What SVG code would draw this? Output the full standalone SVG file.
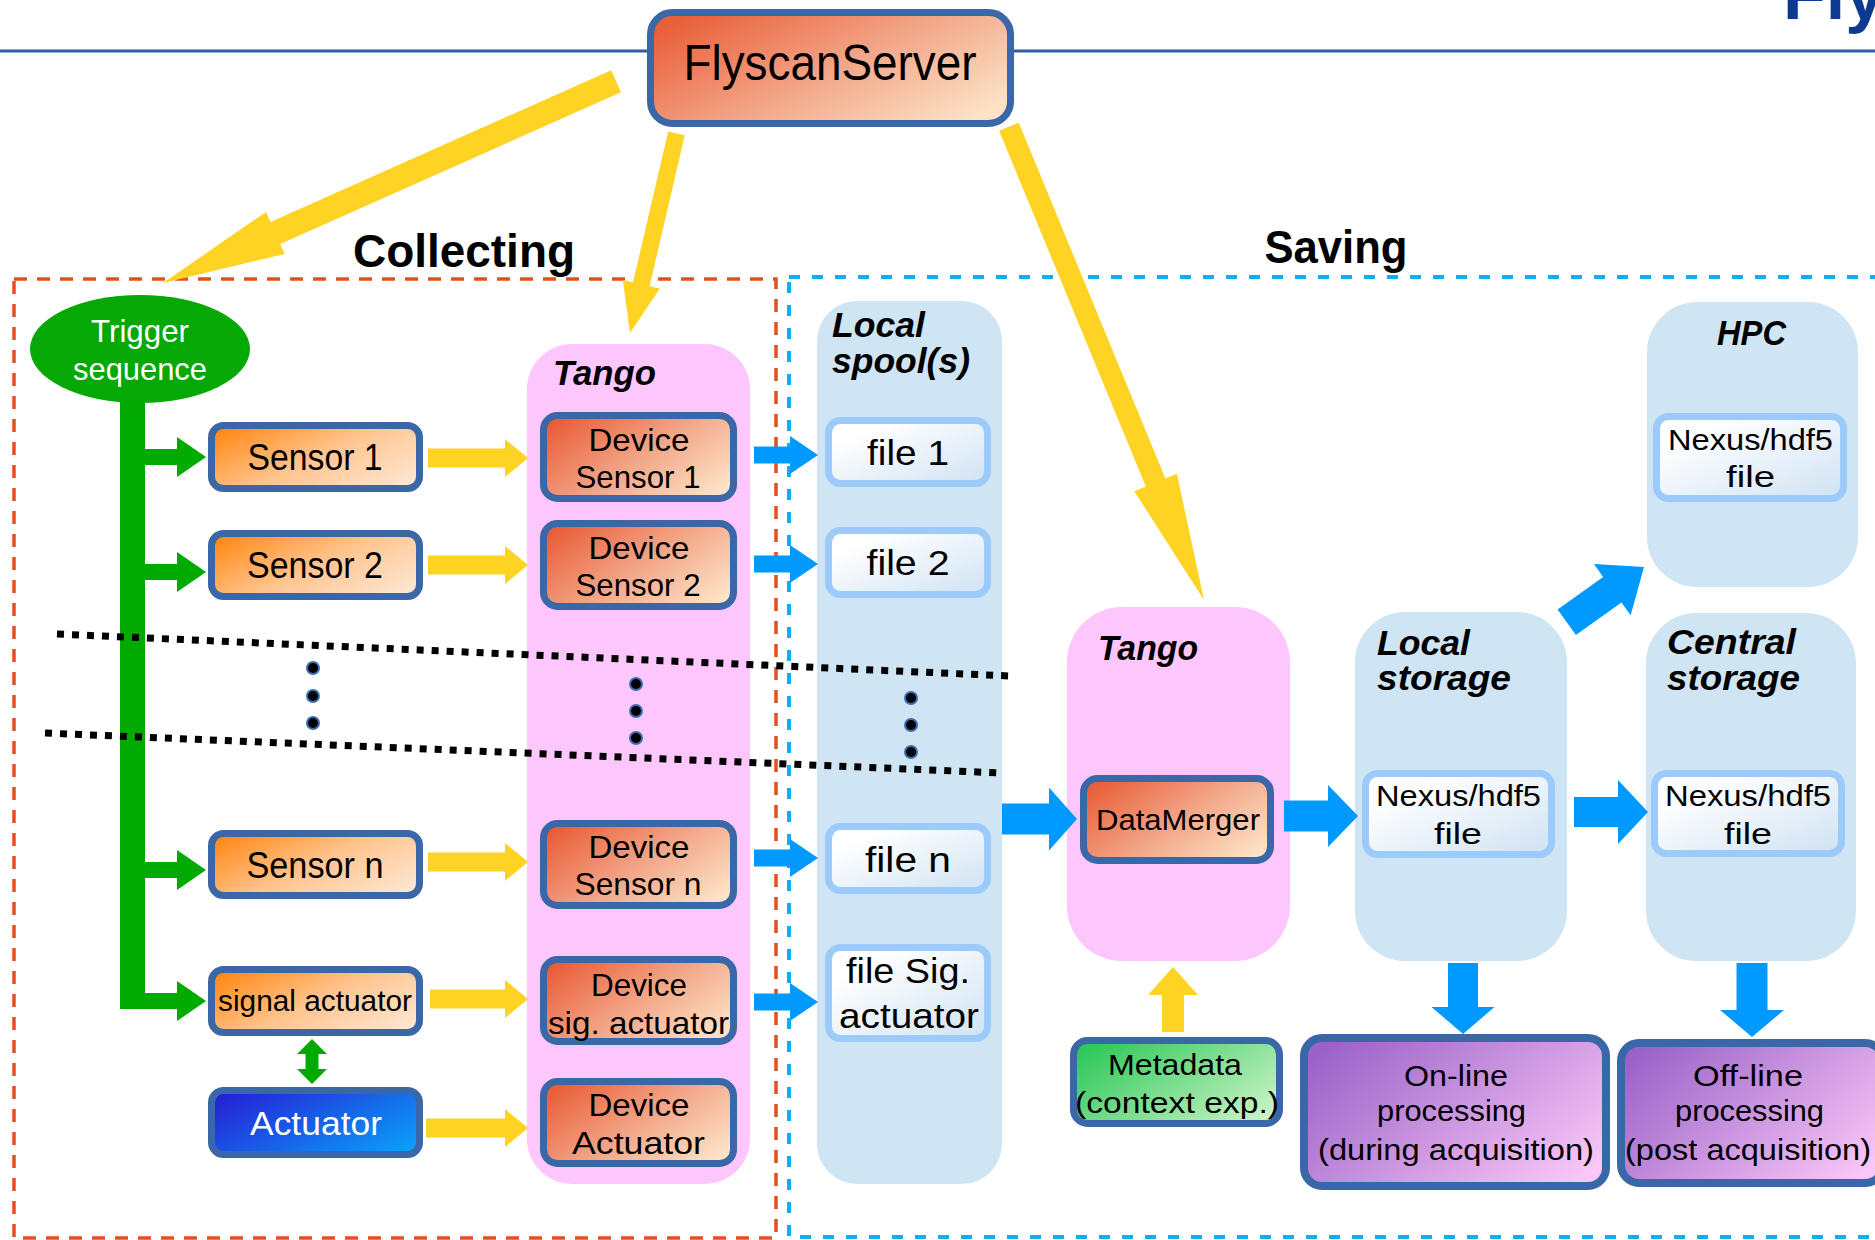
<svg xmlns="http://www.w3.org/2000/svg" width="1875" height="1240" viewBox="0 0 1875 1240">
<defs>
<linearGradient id="gOr" x1="0" y1="0.2" x2="1" y2="0.8"><stop offset="0" stop-color="#e95f3a"/><stop offset="0.5" stop-color="#f2a486"/><stop offset="1" stop-color="#fde3c6"/></linearGradient>
<linearGradient id="gSen" x1="0" y1="0.2" x2="1" y2="0.8"><stop offset="0" stop-color="#ff8c1c"/><stop offset="0.5" stop-color="#ffc48e"/><stop offset="1" stop-color="#fde5cf"/></linearGradient>
<linearGradient id="gAct" x1="0" y1="0.2" x2="1" y2="0.8"><stop offset="0" stop-color="#2424d6"/><stop offset="1" stop-color="#0b9cf8"/></linearGradient>
<linearGradient id="gFile" x1="0.2" y1="0.2" x2="1" y2="1"><stop offset="0" stop-color="#ffffff"/><stop offset="1" stop-color="#cfe2f3"/></linearGradient>
<linearGradient id="gMeta" x1="0" y1="0.2" x2="1" y2="0.8"><stop offset="0" stop-color="#2fc85a"/><stop offset="1" stop-color="#c8f3c4"/></linearGradient>
<linearGradient id="gProc" x1="0" y1="0.2" x2="1" y2="0.8"><stop offset="0" stop-color="#9b63c9"/><stop offset="1" stop-color="#f9c6f7"/></linearGradient>
</defs>
<style>
text{font-family:"Liberation Sans",Arial,sans-serif;fill:#000}
.c{text-anchor:middle}
.box{stroke:#3a67a8;stroke-width:7}
.fbox{stroke:#9ccbfb;stroke-width:7;fill:url(#gFile)}
.pink{fill:#fdc7fd}
.lb{fill:#cfe5f4}
.t36{font-size:36px}
.t32{font-size:32px}
.t29{font-size:29px}
.ti{font-size:35px;font-weight:bold;font-style:italic}
.y{fill:#ffd324}
.g{fill:#00aa00}
.b{fill:#0099ff}
.dot{fill:#000;stroke:#3b6db0;stroke-width:2}
.dl{stroke:#000;stroke-width:7;stroke-dasharray:7 8;fill:none}
</style>
<rect width="1875" height="1240" fill="#fff"/>
<g id="header">
<line x1="0" y1="51" x2="1875" y2="51" stroke="#2f5ea6" stroke-width="3"/>
<text x="1783" y="19" style="font-size:70px;font-weight:bold;fill:#0d3a91">Fly</text>
</g>
<g id="regions">
<rect x="14" y="279" width="762" height="959" fill="none" stroke="#e2511d" stroke-width="3.5" stroke-dasharray="13 10"/>
<rect x="789" y="277" width="1095" height="960" fill="none" stroke="#0cb0ee" stroke-width="4" stroke-dasharray="11 12"/>
<text class="c" x="464" y="267" textLength="222" lengthAdjust="spacingAndGlyphs" style="font-size:47px;font-weight:bold">Collecting</text>
<text class="c" x="1336" y="263" textLength="143" lengthAdjust="spacingAndGlyphs" style="font-size:46px;font-weight:bold">Saving</text>
</g>
<g id="panels">
<g id="tango-left"><rect class="pink" x="527" y="344" width="223" height="840" rx="45"/>
<text class="ti" x="553" y="385" textLength="103" lengthAdjust="spacingAndGlyphs">Tango</text></g>
<g id="local-spool"><rect class="lb" x="817" y="301" width="185" height="883" rx="40"/>
<text class="ti" x="832" y="337" textLength="93" lengthAdjust="spacingAndGlyphs">Local</text>
<text class="ti" x="832" y="373" textLength="138" lengthAdjust="spacingAndGlyphs">spool(s)</text></g>
<g id="tango-right"><rect class="pink" x="1067" y="607" width="223" height="354" rx="55"/>
<text class="ti" x="1098" y="660" textLength="100" lengthAdjust="spacingAndGlyphs">Tango</text></g>
<g id="local-storage"><rect class="lb" x="1355" y="612" width="212" height="349" rx="50"/>
<text class="ti" x="1377" y="655" textLength="93" lengthAdjust="spacingAndGlyphs">Local</text>
<text class="ti" x="1377" y="690" textLength="134" lengthAdjust="spacingAndGlyphs">storage</text></g>
<g id="central-storage"><rect class="lb" x="1646" y="613" width="210" height="348" rx="50"/>
<text class="ti" x="1667" y="654" textLength="129" lengthAdjust="spacingAndGlyphs">Central</text>
<text class="ti" x="1667" y="690" textLength="133" lengthAdjust="spacingAndGlyphs">storage</text></g>
<g id="hpc"><rect class="lb" x="1647" y="302" width="211" height="285" rx="50"/>
<text class="ti" x="1717" y="345" textLength="69" lengthAdjust="spacingAndGlyphs">HPC</text></g>
</g>
<g id="connectors">
<path class="y" transform="translate(163,283) rotate(156)" d="M-496,-12 H-123 V-23 L0,0 L-123,23 V12 H-496 Z"/>
<path class="y" transform="translate(630,333) rotate(103.1)" d="M-205,-8.5 H-50 V-19 L0,0 L-50,19 V8.5 H-205 Z"/>
<path class="y" transform="translate(1204,600) rotate(67.6)" d="M-512,-10.6 H-127 V-23 L0,0 L-127,23 V10.6 H-512 Z"/>
<rect class="g" x="120" y="398" width="25" height="611"/>
<path class="g" transform="translate(206,457)" d="M-61,-8 H-29 V-20 L0,0 L-29,20 V8 H-61 Z"/>
<path class="g" transform="translate(206,572)" d="M-61,-8 H-29 V-20 L0,0 L-29,20 V8 H-61 Z"/>
<path class="g" transform="translate(206,870)" d="M-61,-8 H-29 V-20 L0,0 L-29,20 V8 H-61 Z"/>
<path class="g" transform="translate(206,1001)" d="M-61,-8 H-29 V-20 L0,0 L-29,20 V8 H-61 Z"/>
<path class="g" d="M312,1039 L327,1054 H318.5 V1069 H327 L312,1084 L297,1069 H305.5 V1054 H297 Z"/>
<path class="y" transform="translate(528,458)" d="M-100,-9.5 H-23 V-19 L0,0 L-23,19 V9.5 H-100 Z"/>
<path class="y" transform="translate(528,565)" d="M-100,-9.5 H-23 V-19 L0,0 L-23,19 V9.5 H-100 Z"/>
<path class="y" transform="translate(528,862)" d="M-100,-9.5 H-23 V-19 L0,0 L-23,19 V9.5 H-100 Z"/>
<path class="y" transform="translate(528,999)" d="M-98,-9.5 H-23 V-19 L0,0 L-23,19 V9.5 H-98 Z"/>
<path class="y" transform="translate(528,1128)" d="M-102,-9.5 H-23 V-19 L0,0 L-23,19 V9.5 H-102 Z"/>
<path class="b" transform="translate(818,455)" d="M-64,-8.5 H-28 V-19 L0,0 L-28,19 V8.5 H-64 Z"/>
<path class="b" transform="translate(818,564)" d="M-64,-8.5 H-28 V-19 L0,0 L-28,19 V8.5 H-64 Z"/>
<path class="b" transform="translate(818,858)" d="M-64,-8.5 H-28 V-19 L0,0 L-28,19 V8.5 H-64 Z"/>
<path class="b" transform="translate(818,1002)" d="M-64,-8.5 H-28 V-19 L0,0 L-28,19 V8.5 H-64 Z"/>
<path class="b" transform="translate(1077,819)" d="M-75,-15.5 H-28 V-31.5 L0,0 L-28,31.5 V15.5 H-75 Z"/>
<path class="b" transform="translate(1358,816)" d="M-74,-15.5 H-30 V-31 L0,0 L-30,31 V15.5 H-74 Z"/>
<path class="b" transform="translate(1648,812)" d="M-74,-15 H-30 V-32 L0,0 L-30,32 V15 H-74 Z"/>
<path class="b" transform="translate(1463,1034) rotate(90)" d="M-71,-15 H-27 V-31.5 L0,0 L-27,31.5 V15 H-71 Z"/>
<path class="b" transform="translate(1752,1037) rotate(90)" d="M-74,-15.5 H-27 V-32 L0,0 L-27,32 V15.5 H-74 Z"/>
<path class="b" transform="translate(1644,567) rotate(-35.6)" d="M-95,-15.7 H-39 V-31.5 L0,0 L-39,31.5 V15.7 H-95 Z"/>
<path class="y" transform="translate(1173,967) rotate(-90)" d="M-65,-11 H-28 V-25 L0,0 L-28,25 V11 H-65 Z"/>
</g>
<g id="flyscanserver">
<rect class="box" x="650.5" y="12.5" width="360" height="111" rx="22" fill="url(#gOr)"/>
<text class="c" x="830" y="80" textLength="293" lengthAdjust="spacingAndGlyphs" style="font-size:50px">FlyscanServer</text>
</g>
<g id="trigger">
<ellipse cx="140" cy="349" rx="110" ry="54" fill="#05a805"/>
<text class="c t32" x="140" y="342" textLength="98" lengthAdjust="spacingAndGlyphs" style="fill:#fff">Trigger</text>
<text class="c t32" x="140" y="380" textLength="134" lengthAdjust="spacingAndGlyphs" style="fill:#fff">sequence</text>
</g>
<g id="sensor1"><rect class="box" x="211.5" y="425.5" width="208" height="63" rx="12" fill="url(#gSen)"/>
<text class="c t36" x="315" y="470" textLength="135" lengthAdjust="spacingAndGlyphs">Sensor 1</text></g>
<g id="sensor2"><rect class="box" x="211.5" y="533.5" width="208" height="63" rx="12" fill="url(#gSen)"/>
<text class="c t36" x="315" y="578" textLength="136" lengthAdjust="spacingAndGlyphs">Sensor 2</text></g>
<g id="sensorn"><rect class="box" x="211.5" y="833.5" width="208" height="62" rx="12" fill="url(#gSen)"/>
<text class="c t36" x="315" y="878" textLength="137" lengthAdjust="spacingAndGlyphs">Sensor n</text></g>
<g id="signal-actuator"><rect class="box" x="211.5" y="969.5" width="208" height="63" rx="12" fill="url(#gSen)"/>
<text class="c t29" x="315" y="1011" textLength="194" lengthAdjust="spacingAndGlyphs">signal actuator</text></g>
<g id="actuator"><rect class="box" x="211.5" y="1090.5" width="208" height="64" rx="12" fill="url(#gAct)"/>
<text class="c" x="316" y="1135" textLength="132" lengthAdjust="spacingAndGlyphs" style="font-size:34px;fill:#fff">Actuator</text></g>
<g id="dev-sensor1"><rect class="box" x="543.5" y="415.5" width="190" height="83" rx="14" fill="url(#gOr)"/>
<text class="c t32" x="639" y="451" textLength="101" lengthAdjust="spacingAndGlyphs">Device</text>
<text class="c t32" x="638" y="488" textLength="125" lengthAdjust="spacingAndGlyphs">Sensor 1</text></g>
<g id="dev-sensor2"><rect class="box" x="543.5" y="523.5" width="190" height="83" rx="14" fill="url(#gOr)"/>
<text class="c t32" x="639" y="559" textLength="101" lengthAdjust="spacingAndGlyphs">Device</text>
<text class="c t32" x="638" y="596" textLength="125" lengthAdjust="spacingAndGlyphs">Sensor 2</text></g>
<g id="dev-sensorn"><rect class="box" x="543.5" y="823.5" width="190" height="82" rx="14" fill="url(#gOr)"/>
<text class="c t32" x="639" y="858" textLength="101" lengthAdjust="spacingAndGlyphs">Device</text>
<text class="c t32" x="638" y="895" textLength="127" lengthAdjust="spacingAndGlyphs">Sensor n</text></g>
<g id="dev-sigact"><rect class="box" x="543.5" y="959.5" width="190" height="82" rx="14" fill="url(#gOr)"/>
<text class="c t32" x="639" y="996" textLength="96" lengthAdjust="spacingAndGlyphs">Device</text>
<text class="c t32" x="638.5" y="1034" textLength="181" lengthAdjust="spacingAndGlyphs">sig. actuator</text></g>
<g id="dev-actuator"><rect class="box" x="543.5" y="1081.5" width="190" height="82" rx="14" fill="url(#gOr)"/>
<text class="c t32" x="639" y="1116" textLength="101" lengthAdjust="spacingAndGlyphs">Device</text>
<text class="c t32" x="638.5" y="1154" textLength="133" lengthAdjust="spacingAndGlyphs">Actuator</text></g>
<g id="file1"><rect class="fbox" x="828.5" y="420.5" width="159" height="63" rx="12"/>
<text class="c" x="908" y="465" textLength="82" lengthAdjust="spacingAndGlyphs" style="font-size:35px">file 1</text></g>
<g id="file2"><rect class="fbox" x="828.5" y="530.5" width="159" height="64" rx="12"/>
<text class="c" x="908" y="575" textLength="83" lengthAdjust="spacingAndGlyphs" style="font-size:35px">file 2</text></g>
<g id="filen"><rect class="fbox" x="828.5" y="826.5" width="159" height="64" rx="12"/>
<text class="c" x="908" y="872" textLength="86" lengthAdjust="spacingAndGlyphs" style="font-size:35px">file n</text></g>
<g id="filesig"><rect class="fbox" x="828.5" y="947.5" width="159" height="91" rx="12"/>
<text class="c" x="908" y="983" textLength="124" lengthAdjust="spacingAndGlyphs" style="font-size:35px">file Sig.</text>
<text class="c" x="909" y="1028" textLength="140" lengthAdjust="spacingAndGlyphs" style="font-size:35px">actuator</text></g>
<g id="datamerger"><rect class="box" x="1083.5" y="778.5" width="187" height="82" rx="14" fill="url(#gOr)"/>
<text class="c" x="1178" y="830" textLength="164" lengthAdjust="spacingAndGlyphs" style="font-size:29px">DataMerger</text></g>
<g id="nexus-local"><rect class="fbox" x="1365.5" y="773.5" width="186" height="81" rx="12"/>
<text class="c t29" x="1458.5" y="806" textLength="165" lengthAdjust="spacingAndGlyphs">Nexus/hdf5</text>
<text class="c t29" x="1458" y="844" textLength="48" lengthAdjust="spacingAndGlyphs">file</text></g>
<g id="nexus-central"><rect class="fbox" x="1654.5" y="773.5" width="187" height="80" rx="12"/>
<text class="c t29" x="1748" y="806" textLength="166" lengthAdjust="spacingAndGlyphs">Nexus/hdf5</text>
<text class="c t29" x="1748" y="844" textLength="48" lengthAdjust="spacingAndGlyphs">file</text></g>
<g id="nexus-hpc"><rect class="fbox" x="1656.5" y="416.5" width="187" height="82" rx="12"/>
<text class="c t29" x="1750.5" y="450" textLength="165" lengthAdjust="spacingAndGlyphs">Nexus/hdf5</text>
<text class="c t29" x="1750.5" y="487" textLength="49" lengthAdjust="spacingAndGlyphs">file</text></g>
<g id="metadata"><rect class="box" x="1073.5" y="1040.5" width="206" height="83" rx="14" fill="url(#gMeta)"/>
<text class="c t29" x="1175" y="1075" textLength="134" lengthAdjust="spacingAndGlyphs">Metadata</text>
<text class="c t29" x="1177" y="1113" textLength="204" lengthAdjust="spacingAndGlyphs">(context exp.)</text></g>
<g id="online"><rect class="box" x="1304" y="1038" width="302" height="148" rx="18" fill="url(#gProc)" style="stroke-width:8"/>
<text class="c t29" x="1456" y="1086" textLength="104" lengthAdjust="spacingAndGlyphs">On-line</text>
<text class="c t29" x="1451.5" y="1121" textLength="149" lengthAdjust="spacingAndGlyphs">processing</text>
<text class="c t29" x="1456" y="1160" textLength="276" lengthAdjust="spacingAndGlyphs">(during acquisition)</text></g>
<g id="offline"><rect class="box" x="1621" y="1043" width="262" height="140" rx="18" fill="url(#gProc)" style="stroke-width:8"/>
<text class="c t29" x="1748" y="1086" textLength="110" lengthAdjust="spacingAndGlyphs">Off-line</text>
<text class="c t29" x="1749.5" y="1121" textLength="149" lengthAdjust="spacingAndGlyphs">processing</text>
<text class="c t29" x="1748" y="1160" textLength="246" lengthAdjust="spacingAndGlyphs">(post acquisition)</text></g>
<g id="ellipsis">
<line class="dl" x1="57" y1="634" x2="1010" y2="676"/>
<line class="dl" x1="45" y1="733" x2="1002" y2="773"/>
<circle class="dot" cx="313" cy="668" r="6"/><circle class="dot" cx="313" cy="696" r="6"/><circle class="dot" cx="313" cy="723" r="6"/>
<circle class="dot" cx="636" cy="684" r="6"/><circle class="dot" cx="636" cy="711" r="6"/><circle class="dot" cx="636" cy="738" r="6"/>
<circle class="dot" cx="911" cy="698" r="6"/><circle class="dot" cx="911" cy="725" r="6"/><circle class="dot" cx="911" cy="752" r="6"/>
</g>
</svg>
